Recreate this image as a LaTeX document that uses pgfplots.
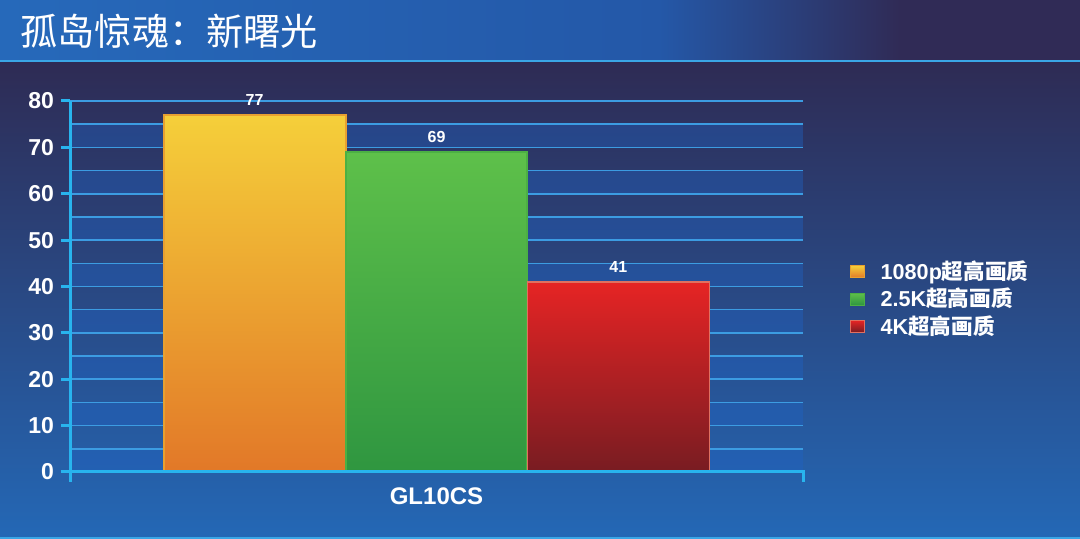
\documentclass[border=0pt]{standalone}
\usepackage{fontspec}
\setmainfont{Liberation Sans}
\newfontfamily\cjk{Noto Sans CJK SC}
\usepackage{pgfplots}
\pgfplotsset{compat=1.18}

\definecolor{bgtop}{HTML}{2E2B54}
\definecolor{bgbot}{HTML}{2468B6}
\definecolor{titleL}{HTML}{2669BA}
\definecolor{titleM}{HTML}{2458A8}
\definecolor{titleR}{HTML}{302B56}
\definecolor{lineC}{HTML}{3AA6E6}
\definecolor{axisC}{HTML}{28B4EE}
\definecolor{gridC}{HTML}{3C9CE2}
\definecolor{bandC}{HTML}{1F62C4}
\definecolor{yTop}{HTML}{F5CF3A}
\definecolor{yBot}{HTML}{E27828}
\definecolor{yEdge}{HTML}{E8A030}
\definecolor{gTop}{HTML}{5EC04A}
\definecolor{gBot}{HTML}{2F9640}
\definecolor{gEdge}{HTML}{4CB044}
\definecolor{rTop}{HTML}{E62424}
\definecolor{rBot}{HTML}{781C22}
\definecolor{rEdge}{HTML}{E07060}

\begin{document}
\begin{tikzpicture}
% background, drawn in pixel units (y downwards)
\begin{scope}[x=0.5pt,y=-0.5pt,shift={(0pt,269.5pt)}]
  \useasboundingbox (0,0) rectangle (1080,539);
  \fill[top color=bgtop, bottom color=bgbot] (0,61) rectangle (1080,539);
  \fill[left color=titleL, right color=titleM] (0,0) rectangle (660,61);
  \fill[left color=titleM, right color=titleR] (659,0) rectangle (900,61);
  \fill[titleR] (899,0) rectangle (1080,61);
  \draw[lineC, line width=1.2pt] (0,61) -- (1080,61);
  \draw[lineC, line width=0.8pt] (0,538) -- (1080,538);
  \foreach \k in {0,...,7}
    \fill[bandC, opacity=0.4] (70,{472-10*\k*4.6375}) rectangle (803,{472-(10*\k+5)*4.6375});
  \node[anchor=west, text=white, inner sep=0pt, font=\cjk\fontsize{18.6}{20}\selectfont] at (20,31) {孤岛惊魂：新曙光};
\end{scope}

\begin{axis}[
  at={(35pt,33.5pt)}, anchor=south west,
  scale only axis, width=366.5pt, height=185.5pt,
  xmin=-2.015, xmax=2.015, ymin=0, ymax=80,
  axis line style={draw=none},
  ytick={0,10,...,80}, minor ytick={5,15,...,75},
  xtick={0}, xticklabels={GL10CS},
  ytick pos=left,
  ymajorgrids, yminorgrids,
  major grid style={gridC, line width=0.8pt},
  minor grid style={gridC, line width=0.8pt},
  tick align=outside, major tick length=4.5pt, minor tick length=0pt,
  ytick style={axisC, line width=1.5pt},
  xtick style={draw=none},
  /pgf/number format/assume math mode=true,
  y tick label style={font=\bfseries\fontsize{11.5}{13}\selectfont, text=white},
  x tick label style={font=\bfseries\fontsize{12}{14}\selectfont, text=white, yshift=0pt},
  bar width=1,
  legend style={at={(1.055,0.466)}, anchor=west, draw=none, fill=none,
    text=white, font=\bfseries\fontsize{10.8}{12}\selectfont, row sep=-1.2pt,
    nodes={inner xsep=8pt}},
  legend cell align=left,
  legend image code/.code={\draw[#1, line width=0.5pt] (0pt,-3pt) rectangle (7pt,3pt);},
]
\addplot[ybar, bar shift=0pt, draw=yEdge, line width=1pt, top color=yTop, bottom color=yBot] coordinates {(-1,77)};
\addplot[ybar, bar shift=0pt, draw=gEdge, line width=1pt, top color=gTop, bottom color=gBot] coordinates {(0,69)};
\addplot[ybar, bar shift=0pt, draw=rEdge, line width=0.8pt, top color=rTop, bottom color=rBot] coordinates {(1,41)};
\addplot[draw=none, forget plot, nodes near coords,
  nodes near coords style={font=\bfseries\fontsize{8}{9}\selectfont, text=white, yshift=1pt}]
  coordinates {(-1,77) (0,69) (1,41)};
\legend{1080p{\cjk 超高画质}, 2.5K{\cjk 超高画质}, 4K{\cjk 超高画质}}
\end{axis}

\begin{scope}[x=0.5pt,y=-0.5pt,shift={(0pt,269.5pt)}]
  \draw[axisC, line width=1.5pt] (70,101) -- (70,482);
  \draw[axisC, line width=1.5pt] (70,472) -- (803,472) -- (803,482);
\end{scope}
\end{tikzpicture}
\end{document}
